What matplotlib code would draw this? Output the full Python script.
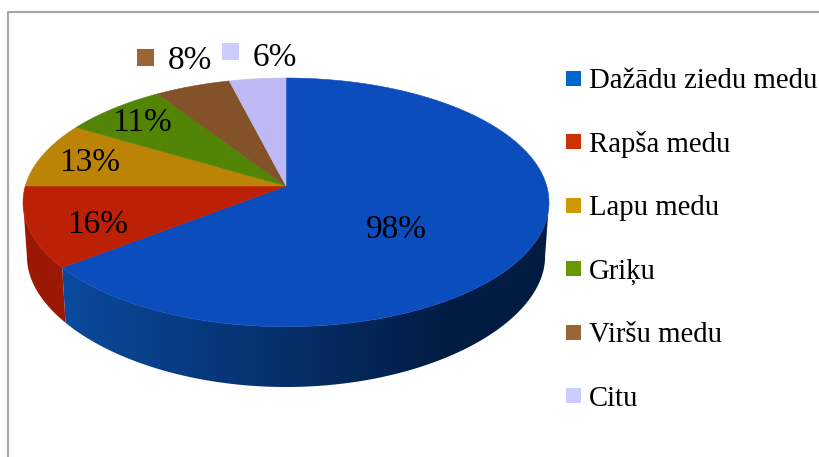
import numpy as np
import matplotlib
matplotlib.use("Agg")
import matplotlib.pyplot as plt
from matplotlib.patches import Rectangle, Polygon

# data
categories = ["Dažādu ziedu medu", "Rapša medu", "Lapu medu", "Griķu", "Viršu medu", "Citu"]
values = [98, 16, 13, 11, 8, 6]

top_colors = ["#0B4DBD", "#BC2005", "#BB8407", "#528505", "#835228", "#BDB9F5"]
legend_colors = ["#0066CC", "#CC3300", "#CC9900", "#669900", "#996633", "#CCCCFF"]

# label centres in pixels, same order as values
label_x = [396, 98, 90, 142, 190, 275]
label_y = [230, 225, 163, 123, 61, 58]

# pie geometry in pixels
CX, CY = 286, 186
RX = 260.7
A, B = 122.2, 0.1317  # perspective of the tilted disc
FONT = "Liberation Serif"


def rim(t):
    # top edge of the disc, t is degrees clockwise from the top
    u = np.sin(np.radians(t))
    v = np.cos(np.radians(t))
    return CX + RX * u / (1 + B * v), CY - A * v / (1 + B * v)


def bottom_rim(t):
    # lower edge of the side wall
    u = np.sin(np.radians(t))
    v = np.cos(np.radians(t))
    return CX + 0.985 * RX * u / (1 + B * v), CY + 55 - 116.8 * v / (1 + 0.2 * v)


def wall_outline(t0, t1):
    ts = np.linspace(t0, t1, 200)
    x1, y1 = rim(ts)
    x2, y2 = bottom_rim(ts)
    return np.column_stack([np.r_[x1, x2[::-1]], np.r_[y1, y2[::-1]]])


fig = plt.figure(figsize=(8.19, 4.57), dpi=100)
ax = fig.add_axes([0, 0, 1, 1])
ax.axis("off")

# frame, runs off the right and bottom of the image
ax.plot([8, 8, 819], [457, 12, 12], color="#A6A6A6", lw=1.5, zorder=0)

# slice angles
angles = np.concatenate([[0], np.cumsum(values) / np.sum(values) * 360])

# the wall is seen between the two points where the rim turns vertical
t_right = np.degrees(np.arccos(-B))
t_left = 360 - t_right

# side of the pie: blue part gets darker to the right
light = np.array([11, 74, 158]) / 255
dark = np.array([2, 27, 66]) / 255
f = np.clip(np.linspace(0, 1.25, 256), 0, 1)[None, :, None]
grad = light + (dark - light) * f
blue_poly = Polygon(wall_outline(t_right, angles[1]), closed=True, transform=ax.transData,
                    fc="none", ec="none")
ax.add_patch(blue_poly)
im = ax.imshow(grad, extent=[62, 552, 400, 180], aspect="auto", zorder=1,
               interpolation="bilinear")
im.set_clip_path(blue_poly)
ax.add_patch(Polygon(wall_outline(angles[1], t_left), closed=True, fc="#9B1904",
                     ec="none", zorder=1))

# top of the pie
for i, val in enumerate(values):
    ts = np.linspace(angles[i], angles[i + 1], 200)
    x, y = rim(ts)
    ax.fill(np.r_[CX, x], np.r_[CY, y], color=top_colors[i], lw=0.4, zorder=2)

# percent labels
for i, val in enumerate(values):
    ax.text(label_x[i], label_y[i], f"{val}%", family=FONT, fontsize=24,
            ha="center", va="center", color="black", zorder=4)

# small keys next to the two outer labels
ax.add_patch(Rectangle((137, 49), 17, 17, color=legend_colors[4], lw=0, zorder=4))
ax.add_patch(Rectangle((222, 43), 17, 17, color=legend_colors[5], lw=0, zorder=4))

# legend
for i, name in enumerate(categories):
    y = 78.5 + i * 63.4
    ax.add_patch(Rectangle((566, y - 7.5), 15, 15, color=legend_colors[i], lw=0, zorder=4))
    ax.text(589, y + 3, name, family=FONT, fontsize=20.7, ha="left", va="center",
            color="black", zorder=4)

ax.set_xlim(0, 819)
ax.set_ylim(457, 0)

fig.savefig("out.png", dpi=100)
